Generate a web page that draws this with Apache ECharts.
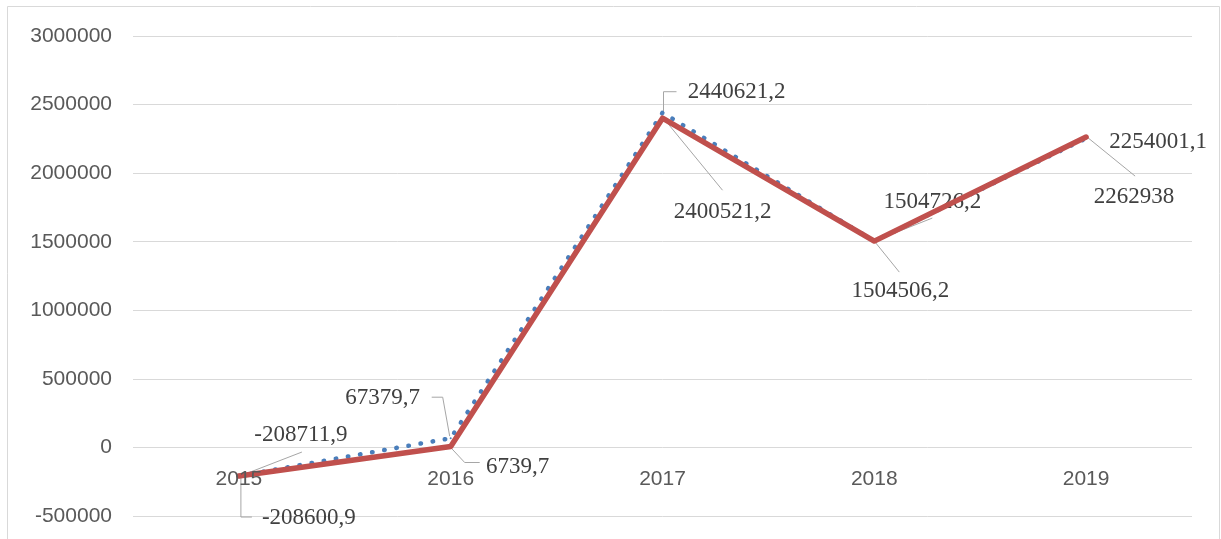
<!DOCTYPE html>
<html>
<head>
<meta charset="utf-8">
<script src="https://cdn.jsdelivr.net/npm/echarts@6/dist/echarts.min.js"></script>
<style>
html,body{margin:0;padding:0;background:#fff;}
#c{width:1221px;height:539px;}
</style>
</head>
<body>
<div id="c"></div>
<script>
// ---- data ----
const years = ['2015', '2016', '2017', '2018', '2019'];
const seriesDotted = [-208711.9, 67379.7, 2440621.2, 1504726.2, 2254001.1];
const seriesSolid = [-208600.9, 6739.7, 2400521.2, 1504506.2, 2262938];
const yMin = -500000;
const yMax = 3000000;
const yStep = 500000;

// ---- label placement (offsets from the data point, px) ----
const dottedLabelPos = [
  {dx: 62, dy: -41, line: [[1, 0], [63, -24]]},
  {dx: -68, dy: -40, line: [[-1, -2], [-8, -41], [-19, -41]]},
  {dx: 74, dy: -21, line: [[1, 0], [1, -21], [14, -21]]},
  {dx: 58, dy: -39, line: [[0, 0], [58, -23]]},
  {dx: 72, dy: 4, line: null}
];
const solidLabelPos = [
  {dx: 70, dy: 42, line: [[2, 1], [2, 41], [13, 41]]},
  {dx: 67, dy: 20, line: [[0, 1], [14, 16], [29, 16]]},
  {dx: 60, dy: 94, line: [[1, 0], [60, 72]]},
  {dx: 26, dy: 50, line: [[0, 0], [25, 31]]},
  {dx: 48, dy: 60, line: [[1, 0], [49, 39]]}
];

function fmt(v) { return String(v).replace('.', ','); }

function makeLayout(posArr) {
  return function (p) {
    const r = p.rect;
    const cx = r.x + r.width / 2;
    const cy = r.y + r.height / 2;
    const o = posArr[p.dataIndex];
    return {x: cx + o.dx, y: cy + o.dy, align: 'center', verticalAlign: 'middle'};
  };
}

const labelStyle = {
  show: true,
  formatter: function (p) { return fmt(p.value); },
  fontFamily: '"Liberation Serif", "Times New Roman", serif',
  fontSize: 23,
  color: '#404040'
};

const chart = echarts.init(document.getElementById('c'), null, {renderer: 'canvas'});
const baseGraphic = [{
  type: 'rect',
  shape: {x: 7.5, y: 6.5, width: 1212, height: 545},
  style: {fill: 'none', stroke: '#d9d9d9', lineWidth: 1},
  silent: true,
  z: -10
}];
chart.setOption({
  animation: false,
  backgroundColor: '#ffffff',
  graphic: baseGraphic,
  grid: {left: 133, right: 29, top: 36, bottom: 23, containLabel: false, outerBoundsMode: 'none'},
  xAxis: {
    type: 'category',
    data: years,
    position: 'bottom',
    boundaryGap: true,
    z: 10,
    axisLine: {show: false, onZero: true},
    axisTick: {show: false},
    axisLabel: {
      margin: 21,
      fontFamily: '"Liberation Sans", Arial, sans-serif',
      fontSize: 21,
      color: '#595959'
    },
    splitLine: {show: false}
  },
  yAxis: {
    type: 'value',
    min: yMin,
    max: yMax,
    interval: yStep,
    axisLine: {show: false},
    axisTick: {show: false},
    axisLabel: {
      margin: 21,
      formatter: function (v) { return String(v); },
      fontFamily: '"Liberation Sans", Arial, sans-serif',
      fontSize: 21,
      color: '#595959'
    },
    splitLine: {show: true, lineStyle: {color: '#d9d9d9', width: 1}}
  },
  series: [
    {
      type: 'line',
      data: seriesDotted,
      symbol: 'circle',
      symbolSize: 2,
      showSymbol: true,
      itemStyle: {color: '#4a7ebb'},
      lineStyle: {color: '#4a7ebb', width: 4.5, type: [0.5, 11.8], cap: 'round'},
      label: labelStyle,
      labelLayout: makeLayout(dottedLabelPos),
      emphasis: {disabled: true},
      z: 2
    },
    {
      type: 'line',
      data: seriesSolid,
      symbol: 'circle',
      symbolSize: 2,
      showSymbol: true,
      itemStyle: {color: '#c0504d'},
      lineStyle: {color: '#c0504d', width: 5.5, cap: 'round', join: 'round'},
      label: labelStyle,
      labelLayout: makeLayout(solidLabelPos),
      emphasis: {disabled: true},
      z: 3
    }
  ]
});

// category axis sits on the value 0 (found through the value axis scale)
const zeroY = chart.convertToPixel({yAxisIndex: 0}, 0);
const bottomY = chart.convertToPixel({yAxisIndex: 0}, yMin);

// leader lines, anchored at the data points via the chart's own scales
const leaders = [];
[[seriesDotted, dottedLabelPos, 0], [seriesSolid, solidLabelPos, 1]].forEach(function (s) {
  s[0].forEach(function (v, i) {
    const o = s[1][i];
    if (!o.line) return;
    const pt = chart.convertToPixel({seriesIndex: s[2]}, [i, v]);
    leaders.push({
      type: 'polyline',
      silent: true,
      z: 1,
      shape: {points: o.line.map(function (q) { return [pt[0] + q[0], pt[1] + q[1]]; })},
      style: {stroke: '#a6a6a6', lineWidth: 1, fill: null}
    });
  });
});
chart.setOption({
  xAxis: {offset: zeroY - bottomY},
  graphic: baseGraphic.concat(leaders)
});
</script>
</body>
</html>
